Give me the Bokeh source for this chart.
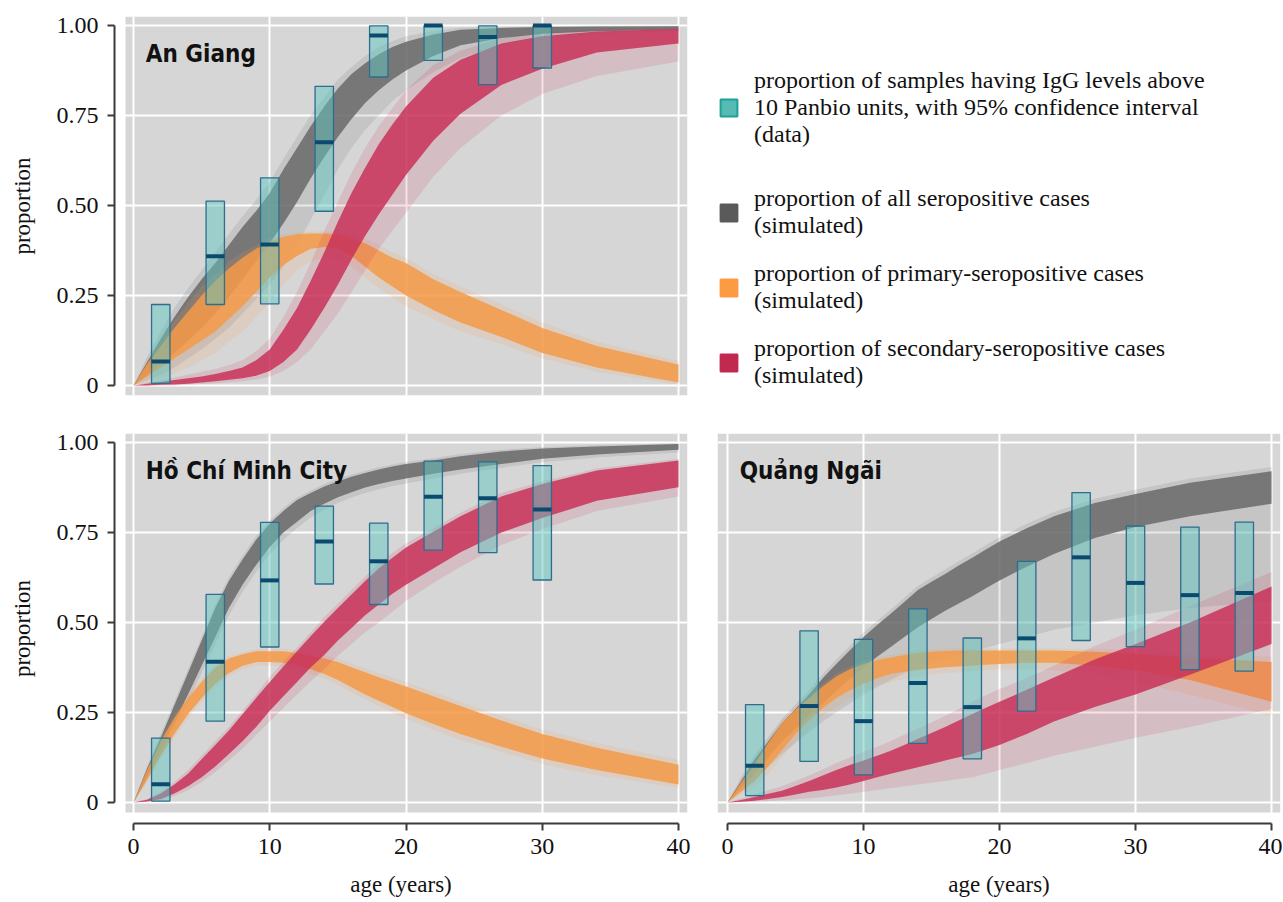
from bokeh.plotting import figure
from bokeh.layouts import column, row
from bokeh.models import Range1d, FixedTicker, Legend, LegendItem, Label, BoxAnnotation
from bokeh.embed import file_html
from bokeh.resources import INLINE

NAN = float("nan")

# ---------------- data ----------------
AGES = [0, 1, 2, 3, 4, 5, 6, 7, 8, 9, 10, 11, 12, 13, 14, 15, 16, 17, 18, 19, 20, 22, 24, 27, 30, 34, 40]

# An Giang simulated bundles (core band lo/hi, faint spread lo/hi)
AG_GRAY_LO = [0, 0.03, 0.06, 0.09, 0.125, 0.16, 0.20, 0.245, 0.295, 0.345, 0.395, 0.45, 0.51, 0.575, 0.635, 0.69, 0.74, 0.785, 0.82, 0.85, 0.875, 0.915, 0.945, 0.965, 0.977, 0.984, 0.988]
AG_GRAY_HI = [0, 0.065, 0.13, 0.19, 0.245, 0.295, 0.34, 0.39, 0.44, 0.485, 0.535, 0.60, 0.66, 0.72, 0.775, 0.825, 0.865, 0.895, 0.92, 0.94, 0.955, 0.975, 0.988, 0.993, 0.996, 0.997, 0.998]
AG_GRAY_FLO = [0, 0.015, 0.03, 0.05, 0.075, 0.10, 0.13, 0.16, 0.20, 0.24, 0.28, 0.33, 0.39, 0.46, 0.53, 0.60, 0.66, 0.71, 0.75, 0.79, 0.82, 0.87, 0.91, 0.945, 0.965, 0.977, 0.983]
AG_GRAY_FHI = [0, 0.08, 0.15, 0.215, 0.27, 0.32, 0.37, 0.42, 0.47, 0.515, 0.565, 0.63, 0.69, 0.75, 0.80, 0.85, 0.885, 0.915, 0.94, 0.957, 0.97, 0.985, 0.994, 0.997, 0.998, 0.999, 0.999]
AG_ORANGE_LO = [0, 0.025, 0.05, 0.075, 0.10, 0.125, 0.15, 0.185, 0.22, 0.26, 0.30, 0.335, 0.36, 0.38, 0.385, 0.38, 0.36, 0.33, 0.30, 0.275, 0.25, 0.21, 0.175, 0.135, 0.09, 0.05, 0.008]
AG_ORANGE_HI = [0, 0.06, 0.11, 0.16, 0.205, 0.25, 0.29, 0.325, 0.355, 0.38, 0.40, 0.413, 0.42, 0.422, 0.422, 0.42, 0.41, 0.395, 0.375, 0.355, 0.34, 0.295, 0.26, 0.21, 0.16, 0.11, 0.058]
AG_ORANGE_FLO = [0, 0.01, 0.02, 0.035, 0.05, 0.07, 0.09, 0.12, 0.15, 0.19, 0.23, 0.28, 0.32, 0.345, 0.355, 0.35, 0.33, 0.30, 0.27, 0.245, 0.22, 0.185, 0.15, 0.115, 0.075, 0.038, 0.003]
AG_ORANGE_FHI = [0, 0.07, 0.13, 0.18, 0.23, 0.275, 0.31, 0.345, 0.37, 0.39, 0.41, 0.42, 0.426, 0.428, 0.428, 0.427, 0.42, 0.408, 0.39, 0.37, 0.355, 0.31, 0.275, 0.225, 0.175, 0.122, 0.068]
AG_RED_LO = [0, 0, 0.002, 0.003, 0.005, 0.008, 0.012, 0.016, 0.02, 0.027, 0.04, 0.065, 0.10, 0.155, 0.215, 0.28, 0.35, 0.415, 0.475, 0.53, 0.585, 0.68, 0.755, 0.835, 0.88, 0.925, 0.95]
AG_RED_HI = [0, 0.005, 0.01, 0.015, 0.02, 0.025, 0.032, 0.04, 0.05, 0.07, 0.10, 0.155, 0.215, 0.29, 0.37, 0.455, 0.535, 0.605, 0.67, 0.725, 0.775, 0.855, 0.905, 0.95, 0.97, 0.983, 0.99]
AG_RED_FLO = [0, 0, 0, 0, 0.002, 0.004, 0.006, 0.009, 0.012, 0.017, 0.025, 0.04, 0.065, 0.10, 0.15, 0.20, 0.26, 0.32, 0.38, 0.43, 0.48, 0.58, 0.66, 0.75, 0.81, 0.86, 0.90]
AG_RED_FHI = [0, 0.008, 0.015, 0.022, 0.03, 0.038, 0.046, 0.056, 0.07, 0.095, 0.13, 0.19, 0.26, 0.34, 0.43, 0.51, 0.59, 0.66, 0.72, 0.77, 0.82, 0.89, 0.93, 0.965, 0.98, 0.99, 0.995]

# Ho Chi Minh City
HC_GRAY_LO = [0, 0.07, 0.145, 0.22, 0.30, 0.38, 0.46, 0.54, 0.605, 0.66, 0.71, 0.75, 0.78, 0.81, 0.83, 0.848, 0.862, 0.875, 0.885, 0.893, 0.90, 0.913, 0.925, 0.94, 0.955, 0.967, 0.98]
HC_GRAY_HI = [0, 0.095, 0.18, 0.27, 0.36, 0.45, 0.54, 0.615, 0.675, 0.73, 0.775, 0.81, 0.84, 0.86, 0.878, 0.892, 0.905, 0.915, 0.925, 0.933, 0.94, 0.95, 0.962, 0.975, 0.983, 0.989, 0.996]
HC_GRAY_FLO = [0, 0.06, 0.13, 0.20, 0.28, 0.36, 0.44, 0.52, 0.585, 0.64, 0.69, 0.73, 0.762, 0.792, 0.813, 0.832, 0.847, 0.86, 0.87, 0.879, 0.886, 0.90, 0.913, 0.93, 0.945, 0.958, 0.972]
HC_GRAY_FHI = [0, 0.10, 0.19, 0.28, 0.37, 0.46, 0.55, 0.625, 0.685, 0.74, 0.783, 0.818, 0.847, 0.867, 0.885, 0.899, 0.911, 0.921, 0.931, 0.939, 0.946, 0.956, 0.968, 0.98, 0.987, 0.993, 0.998]
HC_ORANGE_LO = [0, 0.065, 0.13, 0.19, 0.245, 0.29, 0.33, 0.36, 0.38, 0.39, 0.39, 0.388, 0.38, 0.37, 0.357, 0.34, 0.32, 0.30, 0.283, 0.265, 0.248, 0.218, 0.19, 0.155, 0.122, 0.09, 0.05]
HC_ORANGE_HI = [0, 0.09, 0.17, 0.235, 0.29, 0.335, 0.375, 0.40, 0.412, 0.42, 0.42, 0.42, 0.415, 0.408, 0.40, 0.39, 0.376, 0.362, 0.348, 0.335, 0.322, 0.295, 0.268, 0.228, 0.19, 0.152, 0.105]
HC_ORANGE_FLO = [0, 0.06, 0.12, 0.18, 0.235, 0.28, 0.32, 0.35, 0.37, 0.38, 0.38, 0.378, 0.37, 0.358, 0.345, 0.327, 0.306, 0.286, 0.269, 0.25, 0.233, 0.202, 0.174, 0.14, 0.107, 0.076, 0.04]
HC_ORANGE_FHI = [0, 0.095, 0.178, 0.243, 0.298, 0.343, 0.383, 0.407, 0.418, 0.426, 0.428, 0.427, 0.423, 0.417, 0.41, 0.40, 0.387, 0.373, 0.36, 0.347, 0.335, 0.308, 0.28, 0.24, 0.203, 0.165, 0.118]
HC_RED_LO = [0, 0.003, 0.01, 0.025, 0.045, 0.07, 0.10, 0.135, 0.17, 0.21, 0.255, 0.295, 0.335, 0.375, 0.41, 0.45, 0.485, 0.52, 0.55, 0.58, 0.605, 0.65, 0.695, 0.75, 0.79, 0.838, 0.876]
HC_RED_HI = [0, 0.008, 0.025, 0.05, 0.08, 0.12, 0.16, 0.20, 0.245, 0.29, 0.335, 0.378, 0.42, 0.462, 0.502, 0.54, 0.578, 0.615, 0.65, 0.68, 0.708, 0.752, 0.795, 0.85, 0.885, 0.922, 0.95]
HC_RED_FLO = [0, 0.002, 0.006, 0.018, 0.035, 0.057, 0.085, 0.117, 0.15, 0.188, 0.225, 0.263, 0.30, 0.337, 0.37, 0.408, 0.44, 0.473, 0.50, 0.53, 0.56, 0.61, 0.655, 0.715, 0.76, 0.81, 0.85]
HC_RED_FHI = [0, 0.01, 0.03, 0.057, 0.09, 0.13, 0.17, 0.21, 0.255, 0.30, 0.35, 0.39, 0.43, 0.472, 0.515, 0.552, 0.59, 0.627, 0.665, 0.693, 0.72, 0.762, 0.805, 0.86, 0.892, 0.928, 0.955]

# Quang Ngai
QN_GRAY_LO = [0, 0.04, 0.08, 0.125, 0.17, 0.205, 0.24, 0.275, 0.31, 0.343, 0.376, 0.405, 0.432, 0.46, 0.487, 0.51, 0.533, 0.553, 0.573, 0.595, 0.617, 0.655, 0.69, 0.735, 0.765, 0.795, 0.83]
QN_GRAY_HI = [0, 0.06, 0.12, 0.17, 0.22, 0.26, 0.30, 0.345, 0.385, 0.423, 0.46, 0.493, 0.524, 0.557, 0.59, 0.613, 0.635, 0.658, 0.68, 0.703, 0.725, 0.762, 0.795, 0.832, 0.857, 0.888, 0.92]
QN_GRAY_FLO = [0, 0.03, 0.065, 0.10, 0.135, 0.165, 0.195, 0.225, 0.25, 0.275, 0.30, 0.32, 0.34, 0.36, 0.375, 0.39, 0.40, 0.41, 0.42, 0.43, 0.44, 0.46, 0.48, 0.50, 0.52, 0.54, 0.56]
QN_GRAY_FHI = [0, 0.07, 0.132, 0.182, 0.232, 0.272, 0.312, 0.357, 0.397, 0.435, 0.472, 0.505, 0.536, 0.569, 0.602, 0.625, 0.647, 0.67, 0.692, 0.715, 0.737, 0.774, 0.807, 0.844, 0.869, 0.90, 0.932]
QN_ORANGE_LO = [0, 0.03, 0.06, 0.10, 0.145, 0.19, 0.228, 0.262, 0.29, 0.312, 0.33, 0.345, 0.357, 0.363, 0.368, 0.372, 0.376, 0.378, 0.38, 0.383, 0.385, 0.388, 0.388, 0.38, 0.367, 0.34, 0.28]
QN_ORANGE_HI = [0, 0.055, 0.107, 0.165, 0.22, 0.258, 0.29, 0.322, 0.35, 0.37, 0.385, 0.395, 0.403, 0.41, 0.415, 0.419, 0.421, 0.422, 0.422, 0.422, 0.422, 0.422, 0.422, 0.419, 0.413, 0.403, 0.39]
QN_ORANGE_FLO = [0, 0.02, 0.045, 0.08, 0.125, 0.17, 0.205, 0.24, 0.265, 0.29, 0.31, 0.325, 0.335, 0.343, 0.35, 0.355, 0.36, 0.362, 0.365, 0.367, 0.37, 0.37, 0.368, 0.355, 0.335, 0.30, 0.24]
QN_ORANGE_FHI = [0, 0.062, 0.115, 0.173, 0.228, 0.266, 0.298, 0.33, 0.358, 0.378, 0.393, 0.403, 0.41, 0.417, 0.422, 0.426, 0.428, 0.428, 0.428, 0.428, 0.428, 0.428, 0.428, 0.426, 0.422, 0.414, 0.405]
QN_RED_LO = [0, 0.002, 0.005, 0.01, 0.015, 0.022, 0.03, 0.035, 0.042, 0.05, 0.06, 0.07, 0.08, 0.089, 0.098, 0.107, 0.117, 0.126, 0.135, 0.147, 0.16, 0.19, 0.225, 0.265, 0.30, 0.355, 0.44]
QN_RED_HI = [0, 0.007, 0.015, 0.024, 0.033, 0.046, 0.06, 0.075, 0.09, 0.104, 0.117, 0.13, 0.144, 0.16, 0.177, 0.193, 0.21, 0.228, 0.246, 0.263, 0.28, 0.313, 0.347, 0.397, 0.44, 0.50, 0.60]
QN_RED_FLO = [0, 0.001, 0.002, 0.004, 0.006, 0.009, 0.012, 0.015, 0.02, 0.025, 0.03, 0.035, 0.04, 0.045, 0.05, 0.055, 0.06, 0.065, 0.07, 0.08, 0.09, 0.11, 0.13, 0.155, 0.18, 0.21, 0.26]
QN_RED_FHI = [0, 0.012, 0.022, 0.034, 0.045, 0.06, 0.075, 0.092, 0.11, 0.125, 0.14, 0.155, 0.17, 0.188, 0.205, 0.222, 0.24, 0.26, 0.28, 0.298, 0.315, 0.345, 0.38, 0.435, 0.48, 0.545, 0.64]

# observed proportions with 95% CI
AG_BOX_AGE = [2, 6, 10, 14, 18, 22, 26, 30]
AG_BOX_MID = [0.067, 0.359, 0.392, 0.676, 0.972, 1.0, 0.968, 1.0]
AG_BOX_LO = [0.006, 0.225, 0.227, 0.484, 0.857, 0.903, 0.836, 0.882]
AG_BOX_HI = [0.225, 0.512, 0.577, 0.831, 0.999, 1.0, 0.999, 1.0]

HC_BOX_AGE = [2, 6, 10, 14, 18, 22, 26, 30]
HC_BOX_MID = [0.051, 0.391, 0.617, 0.725, 0.670, 0.849, 0.845, 0.814]
HC_BOX_LO = [0.004, 0.226, 0.432, 0.607, 0.550, 0.701, 0.694, 0.618]
HC_BOX_HI = [0.179, 0.578, 0.778, 0.823, 0.776, 0.948, 0.946, 0.936]

QN_BOX_AGE = [2, 6, 10, 14, 18, 22, 26, 30, 34, 38]
QN_BOX_MID = [0.102, 0.268, 0.226, 0.332, 0.265, 0.456, 0.681, 0.610, 0.576, 0.582]
QN_BOX_LO = [0.019, 0.114, 0.077, 0.164, 0.121, 0.254, 0.450, 0.433, 0.369, 0.365]
QN_BOX_HI = [0.272, 0.477, 0.453, 0.538, 0.457, 0.670, 0.861, 0.768, 0.765, 0.779]

Y_TICKS = [0, 0.25, 0.5, 0.75, 1]
Y_LABELS = ["0", "0.25", "0.50", "0.75", "1.00"]
X_TICKS = [0, 10, 20, 30, 40]

LEGEND_LABELS = [
    "proportion of samples having IgG levels above\n10 Panbio units, with 95% confidence interval\n(data)",
    "proportion of all seropositive cases\n(simulated)",
    "proportion of primary-seropositive cases\n(simulated)",
    "proportion of secondary-seropositive cases\n(simulated)",
]

# ---------------- style ----------------
SERIF = "Liberation Serif"
TITLE_FONT = "DejaVu Sans Condensed"
PANEL_BG = "#d6d6d6"
GRAY_C = "#686868"
ORANGE_C = "#f59a48"
RED_C = "#c8325a"
BOX_W = 1.35


def base_fig(width, height, mbl, mbr, mbt, mbb, xr, yr, show_x, show_y, bg_left, bg_bottom):
    p = figure(width=width, height=height, x_range=Range1d(*xr), y_range=Range1d(*yr),
               output_backend="svg", toolbar_location=None,
               x_axis_location="below" if show_x else None,
               y_axis_location="left" if show_y else None,
               min_border_left=mbl, min_border_right=mbr,
               min_border_top=mbt, min_border_bottom=mbb)
    p.outline_line_color = None
    p.background_fill_color = "white"
    p.border_fill_color = "white"
    p.add_layout(BoxAnnotation(left=bg_left, bottom=bg_bottom, fill_color=PANEL_BG,
                               fill_alpha=1, line_color=None, level="image"))
    p.xgrid.ticker = FixedTicker(ticks=X_TICKS)
    p.ygrid.ticker = FixedTicker(ticks=Y_TICKS)
    for g in (p.xgrid, p.ygrid):
        g.grid_line_color = "white"
        g.grid_line_width = 2
        g.level = "underlay"
    if show_y:
        ax = p.yaxis[0]
        ax.ticker = FixedTicker(ticks=Y_TICKS)
        ax.major_label_overrides = {t: l for t, l in zip(Y_TICKS, Y_LABELS)}
        ax.bounds = (0, 1)
        ax.axis_label = "proportion"
        ax.major_label_standoff = 9
        ax.axis_label_standoff = 19
    if show_x:
        ax = p.xaxis[0]
        ax.ticker = FixedTicker(ticks=X_TICKS)
        ax.bounds = (0, 40)
        ax.axis_label = "age (years)"
        ax.major_label_standoff = 8
        ax.axis_label_standoff = 15
    for ax in p.axis:
        ax.axis_line_color = "#3a3a3a"
        ax.axis_line_width = 2
        ax.major_tick_line_color = "#3a3a3a"
        ax.major_tick_line_width = 2
        ax.major_tick_out = 7
        ax.major_tick_in = 0
        ax.minor_tick_out = 0
        ax.minor_tick_in = 0
        ax.major_label_text_font = SERIF
        ax.major_label_text_font_size = "24px"
        ax.major_label_text_color = "#111111"
        ax.axis_label_text_font = SERIF
        ax.axis_label_text_font_size = "23px"
        ax.axis_label_text_font_style = "normal"
        ax.axis_label_text_color = "#111111"
    return p


def draw_panel(p, bands, boxes, title):
    for flo, fhi, lo, hi, color in bands:
        p.varea(x=AGES, y1=flo, y2=fhi, fill_color=color, fill_alpha=0.15)
        p.varea(x=AGES, y1=lo, y2=hi, fill_color=color, fill_alpha=0.85)
    bx, bmid, blo, bhi = boxes
    p.vbar(x=bx, bottom=blo, top=bhi, width=BOX_W, fill_color="#61c5c1", fill_alpha=0.5,
           line_color="#2d6d8d", line_width=1.3)
    p.rect(x=bx, y=bmid, width=BOX_W, height=4, height_units="screen",
           fill_color="#0b4a6f", line_color=None)
    p.add_layout(Label(x=0.9, y=0.882, text=title, text_font=TITLE_FONT, text_font_style="bold",
                       text_font_size="24px", text_color="#111111"))


# An Giang (top-left)
p1 = base_fig(705, 413, 114, 18, 16, 18, (-1.3945, 40.66), (-0.02778, 1.025), False, True, -0.587, None)
draw_panel(p1,
           [(AG_GRAY_FLO, AG_GRAY_FHI, AG_GRAY_LO, AG_GRAY_HI, GRAY_C),
            (AG_ORANGE_FLO, AG_ORANGE_FHI, AG_ORANGE_LO, AG_ORANGE_HI, ORANGE_C),
            (AG_RED_FLO, AG_RED_FHI, AG_RED_LO, AG_RED_HI, RED_C)],
           (AG_BOX_AGE, AG_BOX_MID, AG_BOX_LO, AG_BOX_HI), "An Giang")

# Ho Chi Minh City (bottom-left)
p2 = base_fig(705, 489, 114, 18, 20, 79, (-1.3945, 40.66), (-0.0583, 1.025), True, True, -0.587, -0.02778)
draw_panel(p2,
           [(HC_GRAY_FLO, HC_GRAY_FHI, HC_GRAY_LO, HC_GRAY_HI, GRAY_C),
            (HC_ORANGE_FLO, HC_ORANGE_FHI, HC_ORANGE_LO, HC_ORANGE_HI, ORANGE_C),
            (HC_RED_FLO, HC_RED_FHI, HC_RED_LO, HC_RED_HI, RED_C)],
           (HC_BOX_AGE, HC_BOX_MID, HC_BOX_LO, HC_BOX_HI), "Hồ Chí Minh City")

# Quang Ngai (bottom-right)
p3 = base_fig(577, 489, 12, 2, 20, 79, (-0.735, 40.66), (-0.0583, 1.025), True, False, None, -0.02778)
draw_panel(p3,
           [(QN_GRAY_FLO, QN_GRAY_FHI, QN_GRAY_LO, QN_GRAY_HI, GRAY_C),
            (QN_ORANGE_FLO, QN_ORANGE_FHI, QN_ORANGE_LO, QN_ORANGE_HI, ORANGE_C),
            (QN_RED_FLO, QN_RED_FHI, QN_RED_LO, QN_RED_HI, RED_C)],
           (QN_BOX_AGE, QN_BOX_MID, QN_BOX_LO, QN_BOX_HI), "Quảng Ngãi")

# legend panel (top-right)
pleg = figure(width=577, height=413, output_backend="svg", toolbar_location=None,
              x_axis_location=None, y_axis_location=None, min_border=0,
              x_range=Range1d(0, 1), y_range=Range1d(0, 1))
pleg.outline_line_color = None
pleg.grid.visible = False
sw_colors = [("#55bbb3", "#1fa098"), ("#5a5a5a", "#5a5a5a"), ("#fd9a44", "#fd9a44"), ("#c1294f", "#c1294f")]
sw = [pleg.quad(left=[NAN], right=[NAN], top=[NAN], bottom=[NAN], fill_color=f, line_color=l, line_width=2)
      for f, l in sw_colors]


def make_legend(items, loc):
    return Legend(items=items, location=loc, border_line_color=None, background_fill_alpha=0,
                  padding=0, margin=0, glyph_width=21, glyph_height=21, label_standoff=15,
                  spacing=21, label_text_font=SERIF, label_text_font_size="24px",
                  label_text_line_height=1.28, label_text_color="#111111")


pleg.add_layout(make_legend([LegendItem(label=LEGEND_LABELS[0], renderers=[sw[0]])], (13, 247)))
pleg.add_layout(make_legend([LegendItem(label=LEGEND_LABELS[i], renderers=[sw[i]]) for i in (1, 2, 3)], (13, 6)))

layout = column(row(p1, pleg, spacing=0), row(p2, p3, spacing=0), spacing=0)
open("out.html", "w").write(file_html(layout, INLINE))
